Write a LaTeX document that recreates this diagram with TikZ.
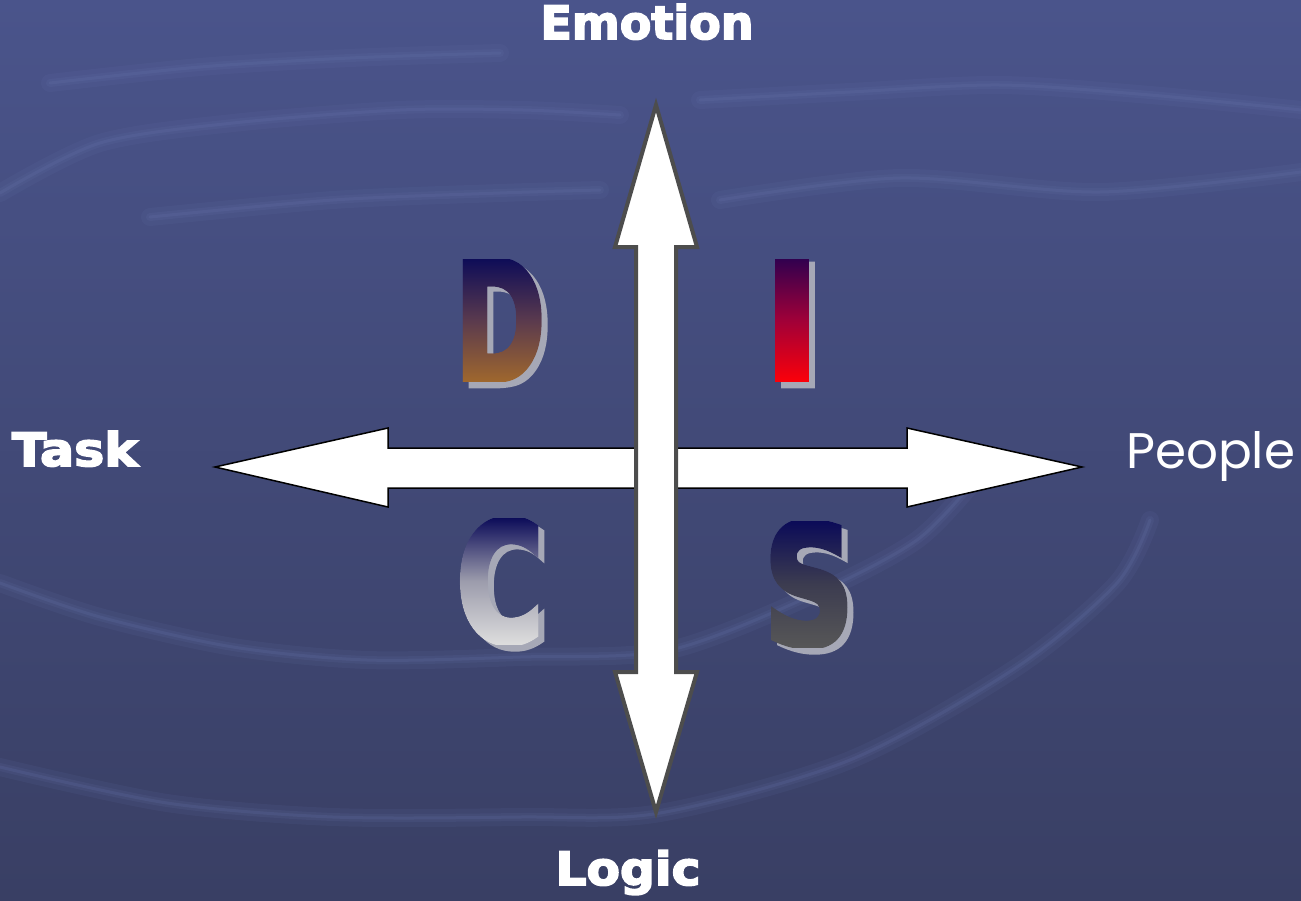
\documentclass[tikz,border=0pt]{standalone}
\usepackage{fontspec}
\usepackage{graphicx}
\usetikzlibrary{fadings}
\newfontfamily\heavy{DejaVu Sans}[UprightFont={* Bold}, UprightFeatures={FakeBold=3.5}]
\newfontfamily\impactish{DejaVu Sans}[UprightFont={* Bold}, UprightFeatures={FakeBold=4}]
\newfontfamily\pop{Poppins}
\definecolor{bgtop}{HTML}{4A548B}
\definecolor{bgbot}{HTML}{393F64}
\definecolor{streakc}{HTML}{6A78B0}
\definecolor{arrowgray}{HTML}{4D4D4D}
\definecolor{shadowc}{HTML}{A6A8B6}
\definecolor{navy}{HTML}{0A0A58}
\definecolor{dbrown}{HTML}{A2692C}
\definecolor{dmid}{HTML}{5A3A4E}
\definecolor{ipurple}{HTML}{2C0050}
\definecolor{imid}{HTML}{A00038}
\definecolor{ired}{HTML}{FF0008}
\definecolor{cmid}{HTML}{9C9CAC}
\definecolor{cbot}{HTML}{DEDEDE}
\definecolor{smid}{HTML}{3C3C50}
\definecolor{sbot}{HTML}{575757}
\newcommand\bigletter[2]{{\impactish\fontsize{165}{165}\selectfont\scalebox{#1}[1]{#2}}}
\tikzset{
  streak/.style={draw=streakc, line width=18pt, opacity=0.10, line cap=round},
  streakmid/.style={draw=streakc, line width=8pt, opacity=0.12, line cap=round},
  streakcore/.style={draw=streakc, line width=3pt, opacity=0.18, line cap=round},
  harrow/.style={fill=white, draw=black, line width=1.5pt, line join=miter},
  varrow/.style={fill=white, draw=arrowgray, line width=4pt, line join=miter},
  lbl/.style={text=white, inner sep=0pt, outer sep=0pt, font=\heavy\fontsize{46}{46}\selectfont},
  lettershadow/.style={text=shadowc, inner sep=0pt, outer sep=0pt},
}
\begin{document}
\pgfdeclarefading{fadeD}{\color{pgftransparent!0}\bigletter{0.66}{D}}%
\pgfdeclarefading{fadeI}{\color{pgftransparent!0}\bigletter{0.9}{I}}%
\pgfdeclarefading{fadeC}{\color{pgftransparent!0}\bigletter{0.72}{C}}%
\pgfdeclarefading{fadeS}{\color{pgftransparent!0}\bigletter{0.76}{S}}%
\begin{tikzpicture}[x=1pt, y=-1pt]
% background
\useasboundingbox (0,0) rectangle (1301,900);
\shade[top color=bgtop, bottom color=bgbot] (0,0) rectangle (1301,900);
% ripples and streaks
\foreach \st in {streak, streakmid, streakcore}{
  \draw[\st] plot[smooth] coordinates {(0,583) (100,617) (233,647) (367,660) (520,657) (670,650) (817,593) (917,540) (975,480)};
  \draw[\st] plot[smooth] coordinates {(0,767) (167,803) (333,817) (520,817) (660,813) (850,760) (1017,667) (1117,583) (1150,520)};
  \draw[\st] plot[smooth] coordinates {(0,193) (100,143) (233,123) (400,110) (523,110) (620,115)};
  \draw[\st] plot[smooth] coordinates {(50,83) (200,67) (350,58) (500,53)};
  \draw[\st] plot[smooth] coordinates {(150,217) (333,200) (500,193) (600,190)};
  \draw[\st] plot[smooth] coordinates {(700,100) (850,92) (1000,85) (1150,95) (1301,110)};
  \draw[\st] plot[smooth] coordinates {(720,200) (900,178) (1100,192) (1301,172)};
}
% horizontal arrow (behind)
\draw[harrow] (215,467) -- (388,428) -- (388,448) -- (907,448) -- (907,428) -- (1082,467)
  -- (907,507) -- (907,488) -- (388,488) -- (388,507) -- cycle;
% vertical arrow
\draw[varrow] (656,105) -- (697,247) -- (676,247) -- (676,672) -- (697,672) -- (656,812)
  -- (615,672) -- (636,672) -- (636,247) -- (615,247) -- cycle;
% letters: shadows
\node[lettershadow] (Dsh) at (506,325) {\bigletter{0.66}{D}};
\node[lettershadow] (Ish) at (798,325) {\bigletter{0.9}{I}};
\node[lettershadow] (Csh) at (506,586) {\bigletter{0.72}{C}};
\node[lettershadow] (Ssh) at (815,589) {\bigletter{0.76}{S}};
% letters: gradient faces
\begin{scope}[transform canvas={shift={(500,320)}}]
  \shade[path fading=fadeD, fit fading=false, top color=navy, bottom color=dbrown, middle color=dmid] (-70,-64) rectangle (70,64);
\end{scope}
\begin{scope}[transform canvas={shift={(792,320)}}]
  \shade[path fading=fadeI, fit fading=false, top color=ipurple, bottom color=ired, middle color=imid] (-70,-64) rectangle (70,64);
\end{scope}
\begin{scope}[transform canvas={shift={(500,581)}}]
  \shade[path fading=fadeC, fit fading=false, top color=navy, bottom color=cbot, middle color=cmid] (-70,-64) rectangle (70,64);
\end{scope}
\begin{scope}[transform canvas={shift={(809,584)}}]
  \shade[path fading=fadeS, fit fading=false, top color=navy, bottom color=sbot, middle color=smid] (-70,-64) rectangle (70,64);
\end{scope}
% labels
\node[lbl, anchor=base] (emo) at (647,39) {Emotion};
\node[lbl, anchor=base west] (task) at (12,466) {\scalebox{1.1}[1]{Task}};
\node[lbl, anchor=base] (logic) at (628,885) {\scalebox{1.06}[1]{Logic}};
\node[text=white, inner sep=0pt, anchor=base west, font=\pop\fontsize{50}{50}\selectfont] (people) at (1126,468) {People};
\end{tikzpicture}
\end{document}
